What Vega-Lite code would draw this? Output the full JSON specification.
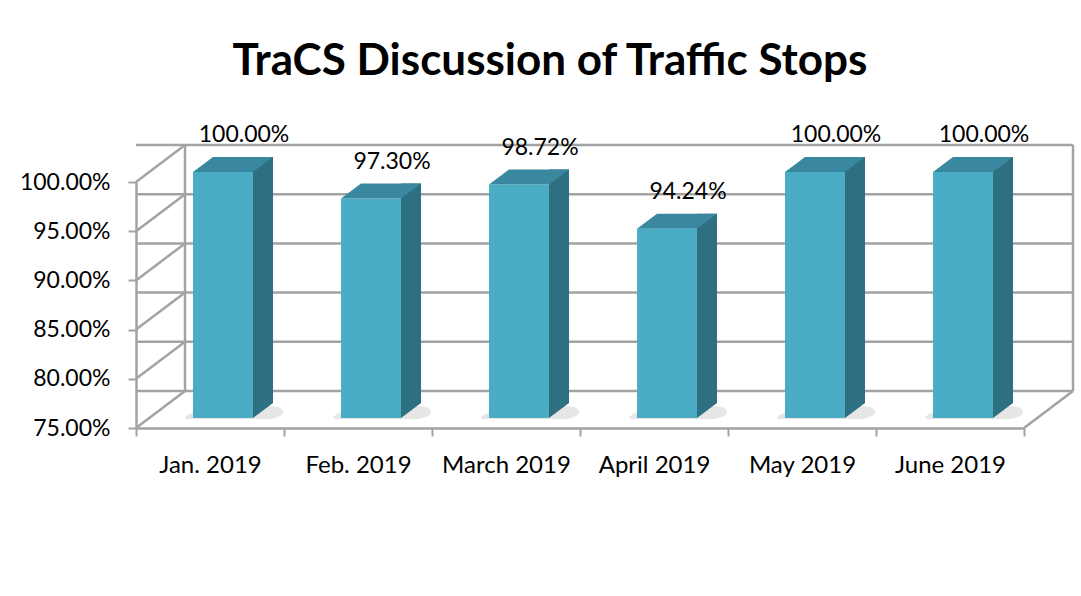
{
  "$schema": "https://vega.github.io/schema/vega-lite/v6.json",
  "autosize": {"type": "none"},
  "padding": {"left": 136, "top": 182, "right": 57, "bottom": 168},
  "width": 888,
  "height": 246,
  "background": "white",
  "config": {"view": {"stroke": null}, "font": "Lato"},
  "title": {
    "text": "TraCS Discussion of Traffic Stops",
    "font": "Lato",
    "fontSize": 44,
    "fontWeight": "bold",
    "color": "#000000",
    "anchor": "middle",
    "frame": "group",
    "dx": -30,
    "offset": 40
  },
  "datasets": {
    "bars": [
      {"month": "Jan. 2019", "value": 1.0},
      {"month": "Feb. 2019", "value": 0.973},
      {"month": "March 2019", "value": 0.9872},
      {"month": "April 2019", "value": 0.9424},
      {"month": "May 2019", "value": 1.0},
      {"month": "June 2019", "value": 1.0}
    ],
    "ticks": [
      {"t": 0.75}, {"t": 0.8}, {"t": 0.85}, {"t": 0.9}, {"t": 0.95}, {"t": 1.0}
    ]
  },
  "layer": [
    {
      "data": {"name": "ticks"},
      "mark": {"type": "rule", "color": "#A3A3A3", "strokeWidth": 2.5, "xOffset": 49, "x2Offset": 49, "yOffset": -37},
      "encoding": {
        "y": {"field": "t", "type": "quantitative", "scale": {"domain": [0.75, 1.0], "zero": false, "nice": false},
          "axis": {"values": [0.75, 0.8, 0.85, 0.9, 0.95, 1.0], "format": ".2%", "title": null, "grid": false,
            "domainColor": "#A3A3A3", "domainWidth": 2.5, "tickColor": "#A3A3A3", "tickWidth": 2, "tickSize": 8,
            "labelFont": "Lato", "labelFontSize": 23, "labelColor": "#000000", "labelPadding": 18}}
      }
    },
    {
      "data": {"name": "ticks"},
      "mark": {"type": "point", "shape": "M0,0 L49,-37", "size": 4, "filled": false, "stroke": "#A3A3A3", "strokeWidth": 2.5, "opacity": 1},
      "encoding": {
        "x": {"datum": "Jan. 2019", "type": "nominal", "bandPosition": 0,
          "scale": {"domain": ["Jan. 2019", "Feb. 2019", "March 2019", "April 2019", "May 2019", "June 2019"], "paddingInner": 0, "paddingOuter": 0},
          "axis": {"title": null, "tickBand": "extent", "bandPosition": 0.5, "domainColor": "#A3A3A3", "domainWidth": 2.5, "tickColor": "#A3A3A3", "tickWidth": 2, "tickSize": 8,
            "labelFont": "Lato", "labelFontSize": 24, "labelColor": "#000000", "labelPadding": 17, "labelAngle": 0, "labelAlign": "center"}},
        "y": {"field": "t", "type": "quantitative"}
      }
    },
    {
      "data": {"name": "ticks"},
      "transform": [{"filter": "datum.t == 0.75"}],
      "mark": {"type": "point", "shape": "M0,0 L49,-37", "size": 4, "filled": false, "stroke": "#A3A3A3", "strokeWidth": 2.5, "opacity": 1},
      "encoding": {
        "x": {"datum": "June 2019", "type": "nominal", "bandPosition": 1},
        "y": {"field": "t", "type": "quantitative"}
      }
    },
    {
      "data": {"name": "ticks"},
      "transform": [{"filter": "datum.t == 0.75"}],
      "mark": {"type": "rule", "color": "#A3A3A3", "strokeWidth": 2.5, "xOffset": 49, "yOffset": -37, "y2Offset": -37},
      "encoding": {
        "x": {"datum": "Jan. 2019", "type": "nominal", "bandPosition": 0},
        "y": {"field": "t", "type": "quantitative"},
        "y2": {"datum": 1.0}
      }
    },
    {
      "data": {"name": "ticks"},
      "transform": [{"filter": "datum.t == 0.75"}],
      "mark": {"type": "rule", "color": "#A3A3A3", "strokeWidth": 2.5, "xOffset": 49, "yOffset": -37, "y2Offset": -37},
      "encoding": {
        "x": {"datum": "June 2019", "type": "nominal", "bandPosition": 1},
        "y": {"field": "t", "type": "quantitative"},
        "y2": {"datum": 1.0}
      }
    },
    {
      "data": {"name": "bars"},
      "mark": {"type": "point", "shape": "M-22,-9 C-30,-9 -20,-18 0,-18 L60,-22 C75,-22 80,-12 60,-9 Z", "size": 4, "filled": true, "fill": "#8C8C8C", "strokeWidth": 0, "opacity": 0.22},
      "encoding": {
        "x": {"field": "month", "type": "nominal", "sort": null},
        "y": {"datum": 0.75, "type": "quantitative"}
      }
    },
    {
      "data": {"name": "bars"},
      "mark": {"type": "bar", "width": 20, "xOffset": 53, "yOffset": -25, "y2Offset": -25, "fill": "#2F6F82"},
      "encoding": {
        "x": {"field": "month", "type": "nominal", "sort": null},
        "y": {"field": "value", "type": "quantitative"},
        "y2": {"datum": 0.75}
      }
    },
    {
      "data": {"name": "bars"},
      "mark": {"type": "point", "shape": "M43,-25 L63,-25 L43,-10 Z", "size": 4, "filled": true, "fill": "#2F6F82", "strokeWidth": 0, "opacity": 1},
      "encoding": {
        "x": {"field": "month", "type": "nominal", "sort": null},
        "y": {"datum": 0.75, "type": "quantitative"}
      }
    },
    {
      "data": {"name": "bars"},
      "mark": {"type": "bar", "width": 60, "xOffset": 13, "yOffset": -10, "y2Offset": -10, "fill": "#4BACC6"},
      "encoding": {
        "x": {"field": "month", "type": "nominal", "sort": null},
        "y": {"field": "value", "type": "quantitative"},
        "y2": {"datum": 0.75}
      }
    },
    {
      "data": {"name": "bars"},
      "mark": {"type": "point", "shape": "M-17,-10 L43,-10 L63,-25 L3,-25 Z", "size": 4, "filled": true, "fill": "#3A88A0", "strokeWidth": 0, "opacity": 1},
      "encoding": {
        "x": {"field": "month", "type": "nominal", "sort": null},
        "y": {"field": "value", "type": "quantitative"}
      }
    },
    {
      "data": {"name": "bars"},
      "mark": {"type": "text", "font": "Lato", "fontSize": 23, "color": "#000000", "dx": 34, "dy": -47, "baseline": "middle", "align": "center"},
      "encoding": {
        "x": {"field": "month", "type": "nominal", "sort": null},
        "y": {"field": "value", "type": "quantitative"},
        "text": {"field": "value", "type": "quantitative", "format": ".2%"}
      }
    }
  ]
}
